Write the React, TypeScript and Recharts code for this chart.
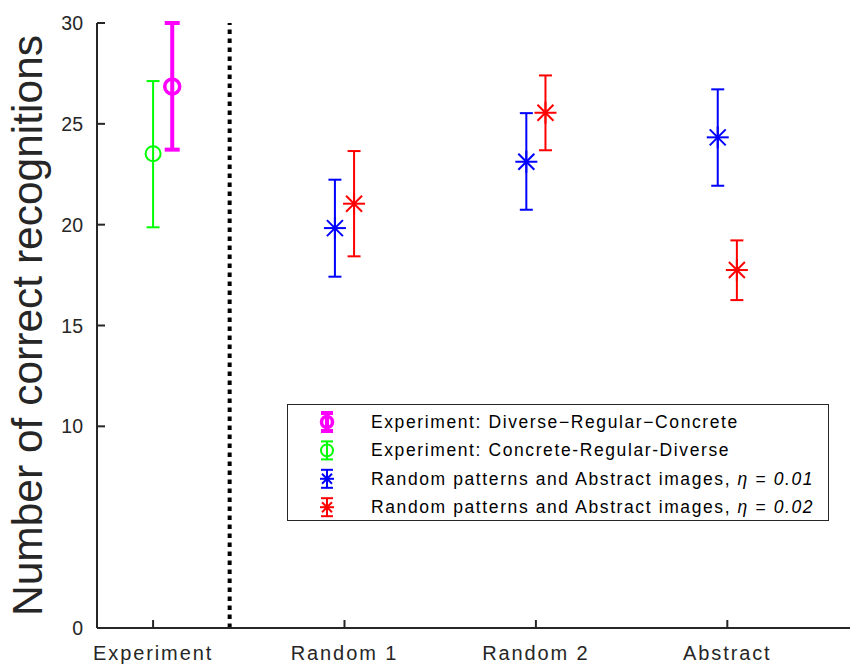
import React from 'react';
import { ScatterChart, Scatter, XAxis, YAxis, ErrorBar, ReferenceLine, Legend } from 'recharts';

const categories = ['Experiment', 'Random 1', 'Random 2', 'Abstract'];
const categoryPositions = [1, 2, 3, 4];
const yTicks = [0, 10, 15, 20, 25, 30];
const separatorX = 1.4;

// Experiment: Diverse-Regular-Concrete (magenta)
const drcX = [1.1];
const drcMean = [26.85];
const drcLow = [23.72];
const drcHigh = [30.0];

// Experiment: Concrete-Regular-Diverse (green)
const crdX = [1.0];
const crdMean = [23.52];
const crdLow = [19.87];
const crdHigh = [27.12];

// eta = 0.01 (blue)
const eta1X = [1.95, 2.95, 3.95];
const eta1Mean = [19.83, 23.12, 24.33];
const eta1Low = [17.42, 20.74, 21.93];
const eta1High = [22.23, 25.53, 26.71];

// eta = 0.02 (red)
const eta2X = [2.05, 3.05, 4.05];
const eta2Mean = [21.04, 25.55, 17.75];
const eta2Low = [18.43, 23.69, 16.26];
const eta2High = [23.65, 27.4, 19.22];

const build = (xs: number[], m: number[], lo: number[], hi: number[]) =>
  xs.map((x, i) => ({ x, y: m[i], err: [m[i] - lo[i], hi[i] - m[i]] }));

const drcData = build(drcX, drcMean, drcLow, drcHigh);
const crdData = build(crdX, crdMean, crdLow, crdHigh);
const eta1Data = build(eta1X, eta1Mean, eta1Low, eta1High);
const eta2Data = build(eta2X, eta2Mean, eta2Low, eta2High);

const FONT = '"Liberation Sans", Arial, Helvetica, sans-serif';
const AXIS = '#262626';
const MAGENTA = '#ff00ff';
const GREEN = '#00ff00';
const BLUE = '#0000ff';
const RED = '#ff0000';

const Asterisk = ({ cx, cy, color, r = 11, d = 8, sw = 2 }: any) => (
  <g stroke={color} strokeWidth={sw} fill="none">
    <line x1={cx - r} y1={cy} x2={cx + r} y2={cy} />
    <line x1={cx} y1={cy - r} x2={cx} y2={cy + r} />
    <line x1={cx - d} y1={cy - d} x2={cx + d} y2={cy + d} />
    <line x1={cx - d} y1={cy + d} x2={cx + d} y2={cy - d} />
  </g>
);

const Ring = ({ cx, cy, color, r = 7.5, sw = 2 }: any) => (
  <circle cx={cx} cy={cy} r={r} stroke={color} strokeWidth={sw} fill="none" />
);

const XTick = (props: any) => {
  const { x, y, payload } = props;
  const idx = categoryPositions.indexOf(payload.value);
  return (
    <g>
      <line x1={x} y1={y} x2={x} y2={y - 8} stroke={AXIS} strokeWidth={2} />
      <text x={x} y={y + 32} textAnchor="middle" fontFamily={FONT} fontSize={20} letterSpacing={1.9} fill={AXIS}>
        {idx >= 0 ? categories[idx] : ''}
      </text>
    </g>
  );
};

const YTick = (props: any) => {
  const { x, y, payload } = props;
  return (
    <g>
      <line x1={x + 14} y1={y} x2={x + 22} y2={y} stroke={AXIS} strokeWidth={2} />
      <text x={x} y={y} dy="0.36em" textAnchor="end" fontFamily={FONT} fontSize={19.5} fill={AXIS}>
        {payload.value}
      </text>
    </g>
  );
};

const YLabel = (props: any) => {
  const vb = props.viewBox || { x: 0, y: 23, width: 97, height: 605 };
  const cx = vb.x + 42;
  const cy = vb.y + vb.height / 2;
  return (
    <text x={cx} y={cy} transform={`rotate(-90, ${cx}, ${cy})`} textAnchor="middle" fontFamily={FONT} fontSize={42.5} fill={AXIS}>
      Number of correct recognitions
    </text>
  );
};

const legendItems = [
  { label: 'Experiment: Diverse\u2212Regular\u2212Concrete', eta: '', color: MAGENTA, kind: 'ringThick' },
  { label: 'Experiment: Concrete-Regular-Diverse', eta: '', color: GREEN, kind: 'ring' },
  { label: 'Random patterns and Abstract images, ', eta: '\u03b7 = 0.01', color: BLUE, kind: 'star' },
  { label: 'Random patterns and Abstract images, ', eta: '\u03b7 = 0.02', color: RED, kind: 'star' },
];

const renderLegend = () => (
  <svg width={543} height={118} style={{ display: 'block' }}>
    <rect x={0.5} y={0.5} width={541} height={116} fill="#fff" stroke={AXIS} strokeWidth={1} />
    {legendItems.map((it, i) => {
      const cy = 18 + i * 28.4;
      const cx = 40;
      const thick = it.kind === 'ringThick';
      const sw = thick ? 4 : 2;
      return (
        <g key={i}>
          <g stroke={it.color} strokeWidth={sw}>
            <line x1={cx} y1={cy - 9} x2={cx} y2={cy + 9} />
            <line x1={cx - 6} y1={cy - 9} x2={cx + 6} y2={cy - 9} />
            <line x1={cx - 6} y1={cy + 9} x2={cx + 6} y2={cy + 9} />
          </g>
          {it.kind === 'star' ? (
            <Asterisk cx={cx} cy={cy} color={it.color} r={7} d={5} sw={2} />
          ) : (
            <Ring cx={cx} cy={cy} color={it.color} r={thick ? 5.5 : 6} sw={thick ? 3.5 : 2} />
          )}
          <text x={84} y={cy + 6} fontFamily={FONT} fontSize={17.5} letterSpacing={1.6} fill="#000">
            {it.label}
            {it.eta ? <tspan fontStyle="italic">{it.eta}</tspan> : null}
          </text>
        </g>
      );
    })}
  </svg>
);

export default function App() {
  return (
    <div style={{ position: 'absolute', left: 0, top: 0, width: 851, height: 664, background: '#fff' }}>
      <ScatterChart width={851} height={664} margin={{ top: 23, right: 1, bottom: 0, left: 0 }}>
        <XAxis
          type="number"
          dataKey="x"
          domain={[0.707, 4.641]}
          ticks={categoryPositions}
          allowDataOverflow
          height={36}
          tickSize={0}
          tickMargin={0}
          tickLine={false}
          axisLine={{ stroke: AXIS, strokeWidth: 2 }}
          tick={(p: any) => <XTick {...p} />}
          interval={0}
        />
        <YAxis
          type="number"
          dataKey="y"
          domain={[0, 30]}
          ticks={yTicks}
          allowDataOverflow
          width={97}
          tickSize={0}
          tickMargin={14}
          tickLine={false}
          axisLine={{ stroke: AXIS, strokeWidth: 2 }}
          tick={(p: any) => <YTick {...p} />}
          interval={0}
          label={(p: any) => <YLabel {...p} />}
        />
        <ReferenceLine x={separatorX} stroke="#000" strokeWidth={4} strokeDasharray="4.5 4.5" />
        <Scatter data={crdData} isAnimationActive={false} shape={(p: any) => <Ring cx={p.cx} cy={p.cy} color={GREEN} r={7.5} sw={2} />}>
          <ErrorBar dataKey="err" direction="y" width={6.5} stroke={GREEN} strokeWidth={2} />
        </Scatter>
        <Scatter data={drcData} isAnimationActive={false} shape={(p: any) => <Ring cx={p.cx} cy={p.cy} color={MAGENTA} r={7.5} sw={3.5} />}>
          <ErrorBar dataKey="err" direction="y" width={7.5} stroke={MAGENTA} strokeWidth={4} />
        </Scatter>
        <Scatter data={eta1Data} isAnimationActive={false} shape={(p: any) => <Asterisk cx={p.cx} cy={p.cy} color={BLUE} />}>
          <ErrorBar dataKey="err" direction="y" width={6.5} stroke={BLUE} strokeWidth={2} />
        </Scatter>
        <Scatter data={eta2Data} isAnimationActive={false} shape={(p: any) => <Asterisk cx={p.cx} cy={p.cy} color={RED} />}>
          <ErrorBar dataKey="err" direction="y" width={6.5} stroke={RED} strokeWidth={2} />
        </Scatter>
        <Legend
          layout="vertical"
          align="center"
          verticalAlign="middle"
          wrapperStyle={{ position: 'absolute', left: 287, top: 404, width: 543, height: 118 }}
          content={renderLegend}
        />
      </ScatterChart>
    </div>
  );
}
